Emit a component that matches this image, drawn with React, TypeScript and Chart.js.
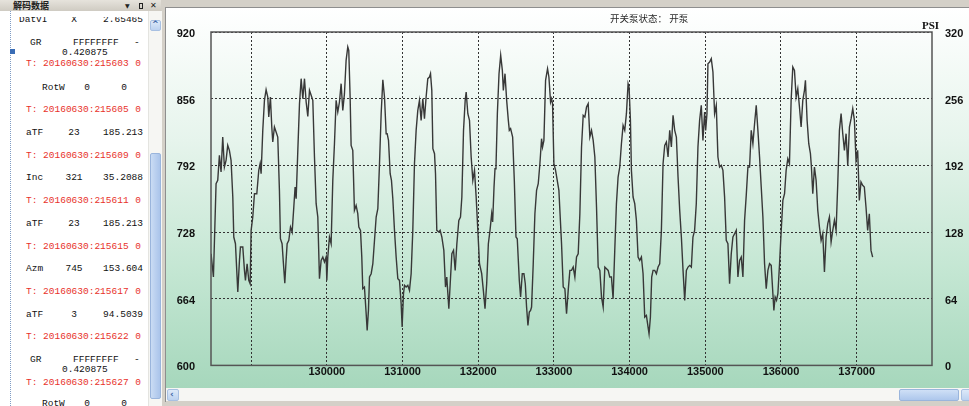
import React, { useEffect, useRef } from 'react';
import { Chart, registerables } from 'chart.js';

Chart.register(...registerables);

// ---- chart data (sample index vs pressure) ----
const sampleA = [
  128471,128502,128537,128559,128581,128603,128625,128647,128669,128691,
  128713,128735,128758,128771,128793,128824,128846,128859,128890,128912,
  128925,128947,128969,128987,129000,129022,129044,129075,129101,129119,
  129132,129154,129176,129198,129220,129233,129255,129273,129286,129308,
  129330,129352,129374,129387,129409,129427,129445,129462,129476,129498,
  129520,129542,129564,129581,129595,129617,129639,129661,129683,129705,
  129727,129749,129771,129793,129815,129837,129859,129881,129903,129925,
  129947,129969,129991,130000,130013,130035,130057,130079,130101,130123,
  130145,130167,130189,130211,130233,130255,130277,130290,130308,130321,
  130343,130365,130387,130409,130423,130445,130462,130475,130497,130520,
  130533,130550,130564,130586,130608,130652,130674,130696,130718,130740,
  130762,130784,130797,130815,130837,130854,130872,130894,130916,130938,
  130960,130982,130995,131013,131026,131048,131070,131092,131114,131136,
  131158,131180,131202,131224,131246,131268,131290,131312,131334,131356,
  131370,131387,131401,131423,131436,131453,131480,131497,131520,131546,
  131568,131585,131612,131630,131652,131674,131696,131718,131744,131766,
  131784,131806,131828,131841,131863,131885,131907,131929,131951,131973,
  131995,132017,
];
const pressureA = [
  707.2,684.8,774.4,777.6,801.6,785.6,819.2,790.4,796.8,811.2,
  806.4,796.8,761.6,723.2,716.8,670.4,700.8,713.6,713.6,691.2,
  681.6,697.6,681.6,678.4,729.6,742.4,764.8,764.8,787.2,793.6,
  784,825.6,854.4,864.6,857.6,838.4,857.6,828.8,814.4,828.8,
  824,819.2,768,721.6,716.8,697.6,679,700.8,716.8,720,
  732.8,728,752,771.2,760,806.4,851.2,875.2,856,875.2,
  852.8,839,864,859.2,854.4,800,755.2,742.4,683.2,700.8,
  704,699.2,704,681.6,704,723.2,716.8,777.6,812.8,854.4,
  843.2,852.8,870.4,844.8,860.8,892.8,905.6,902.4,857.6,811.2,
  806.4,748.8,753.6,745.6,732.8,729.6,704,673.6,675.2,649.6,
  633.6,652.8,684.8,688,697.6,742.4,750.4,793.6,841.6,874.2,
  857.6,822.4,822.4,816,784,777.6,760,729.6,704,683.2,
  681.6,659.2,636.8,668.8,676.8,675.2,676.8,672,688,729.6,
  793.6,825.6,844.8,854.4,835.2,856,836.8,857.6,875.2,876.8,
  880,864,808,803.2,784,729.6,728,729.6,723.2,710.4,
  675.2,684.8,654.4,678.4,707.2,710.4,691.2,716.8,739.2,742.4,
  761.6,825.6,854.4,862.4,841.6,835.2,800,777.6,787.2,761.6,
  729.6,697.6,
];
const sampleB = [
  132046,132068,132090,132112,132134,132156,132178,132191,132209,132222,
  132235,132253,132275,132297,132319,132332,132354,132376,132398,132411,
  132428,132455,132477,132499,132516,132543,132560,132582,132604,132622,
  132639,132657,132675,132692,132705,132727,132749,132771,132793,132815,
  132837,132850,132868,132890,132916,132934,132956,132969,132982,133000,
  133022,133044,133066,133079,133101,133123,133145,133167,133189,133211,
  133233,133255,133277,133299,133321,133343,133365,133387,133409,133431,
  133453,133475,133497,133519,133541,133563,133585,133607,133629,133651,
  133673,133695,133717,133738,133760,133782,133804,133826,133848,133870,
  133892,133914,133936,133958,133980,133993,134011,134024,134046,134068,
  134090,134112,134134,134156,134178,134200,134222,134244,134257,134275,
  134292,134310,134332,134354,134376,134398,134420,134442,134464,134486,
  134508,134530,134552,134574,134596,134618,134640,134662,134684,134706,
  134728,134750,134772,134794,134816,134837,134859,134881,134903,134925,
  134947,134969,134991,135005,135022,135035,135057,135079,135101,135123,
  135145,135167,135189,135211,135233,135255,135277,135299,135321,135343,
  135365,135387,135409,135431,135453,135475,135497,135519,135541,135563,
  135585,135607,135629,135651,135673,135695,135717,135739,135761,135783,
  135805,135827,135849,135871,135893,135906,135923,135941,135959,135981,
  136003,136025,136047,136068,136090,136112,136134,136156,136178,136200,
  136222,136244,136266,136288,136310,136323,136345,136367,136389,136402,
  136420,136442,136464,136486,136508,136530,136552,136574,136596,136618,
  136640,136662,136684,136706,136728,136750,136772,136794,136816,136838,
  136860,136882,136904,136926,136948,136970,136991,137013,137035,137057,
  137079,137101,137123,137145,137167,137189,137211,
];
const pressureB = [
  688,672,654.4,678.4,716.8,729.6,745.6,737.6,771.2,788.8,
  790.4,841.6,880,897.6,883.2,864,880,854.4,835.2,825.6,
  827.2,819.2,777.6,723.2,721.6,681.6,665.6,688,688,678.4,
  656,638.4,651.2,652.8,656,697.6,745.6,768,774.4,793.6,
  817.6,809.6,816,873.6,884.8,876.8,852.8,856,851.2,793.6,
  787.2,777.6,768,748.8,716.8,675.2,673.6,649.6,672,691.2,
  691.2,694.4,684.8,704,707.2,745.6,809.6,840,838.4,848,
  851.2,819.2,825.6,816,800,752,694.4,691.2,665.6,656,
  694.4,692.8,691.2,684.8,684.8,664,710.4,755.2,780.8,790.4,
  812.8,830.4,825.6,841.6,870.4,867.2,835.2,787.2,761.6,755.2,
  739.2,704,700.8,704,688,646.4,648,636.8,630.4,646.4,
  684.8,691.2,691.2,688,694.4,697.6,729.6,793.6,811.2,814.4,
  800,825.6,809.6,840,825.6,819.2,780.8,748.8,723.2,691.2,
  662.4,691.2,694.4,696,694.4,723.2,729.6,755.2,809.6,835.2,
  849.6,816,843.2,825.6,841.6,889.6,891.2,894.4,881.6,841.6,
  849.6,800,790.4,792,787.2,761.6,720,716.8,678.4,707.2,
  723.2,726.4,729.6,684.8,700.8,704,684.8,739.2,763.2,790.4,
  790.4,825.6,812.8,832,849.6,825.6,800,771.2,742.4,697.6,
  673.6,691.2,697.6,696,668.8,652.8,665.6,662.4,668.8,697.6,
  729.6,758.4,764.8,787.2,798.4,793.6,854.4,886.4,883.2,857.6,
  865.6,848,828.8,854.4,864,873.6,835.2,812.8,803.2,790.4,
  764.8,790.4,777.6,748.8,732.8,720,726.4,689.6,723.2,736,
  742.4,718.4,729.6,739.2,729.6,774.4,825.6,841.6,822.4,806.4,
  822.4,792,828.8,836.8,846.4,835.2,796.8,806.4,758.4,776,
  772.8,771.2,752,729.6,745.6,710.4,704,
];

const leftAxisTicks = [600, 664, 728, 792, 856, 920];
const rightAxisTicks = [0, 64, 128, 192, 256, 320];
const xRange = [128470, 137995];
const xAxisTicks = [129000, 130000, 131000, 132000, 133000, 134000, 135000, 136000, 137000];
const hiddenXLabels = [129000];

const titleLabel = '开关泵状态：';
const titleState = '开泵';
const rightUnit = 'PSI';
const panelTitle = '解码数据';

// ---- decoded data list (left panel) ----
const recordNames = ['DatVI', 'GR', 'RotW', 'aTF', 'Inc', 'aTF', 'Azm', 'aTF', 'GR', 'RotW'];
const recordCodes = ['X', 'FFFFFFFF', '0', '23', '321', '23', '745', '3', 'FFFFFFFF', '0'];
const recordValues = ['2.65465', '-', '0', '185.213', '35.2088', '185.213', '153.604', '94.5039', '-', '0'];
const timeStamps = ['20160630:215603', '20160630:215605', '20160630:215609', '20160630:215611',
  '20160630:215615', '20160630:215617', '20160630:215622', '20160630:215627'];
const grExtra = '0.420875';

const framePlugin = {
  id: 'plotFrame',
  afterDatasetsDraw(chart: any) {
    const { ctx, chartArea: a } = chart;
    ctx.save();
    ctx.strokeStyle = '#555';
    ctx.lineWidth = 1.5;
    ctx.strokeRect(a.left, a.top, a.right - a.left, a.bottom - a.top);
    ctx.restore();
  },
};

const MONO = '"Liberation Mono", "DejaVu Sans Mono", monospace';

function T(props: { x: number; y: number; text: string; align?: 'left' | 'center' | 'right'; color?: string; size?: number; bold?: boolean; font?: string }) {
  const { x, y, text, align = 'left', color = '#111', size = 9.5, bold = false, font = MONO } = props;
  const tr = align === 'left' ? 'none' : align === 'center' ? 'translateX(-50%)' : 'translateX(-100%)';
  return (
    <span style={{ position: 'absolute', left: x, top: y - 7, lineHeight: '14px', height: 14, fontSize: size, fontFamily: font, color, whiteSpace: 'pre', transform: tr, fontWeight: bold ? 700 : 400 }}>{text}</span>
  );
}

function LeftPanel() {
  const red = '#e8322b';
  const rowsY = [20, 43, 88, 133, 178, 224, 269, 315, 360, 404];
  const tsY = [64, 110, 156, 201, 247, 292, 337, 383];
  const items: any[] = [];
  recordNames.forEach((name, i) => {
    const y = rowsY[i];
    if (name === 'GR') {
      items.push(<T key={'n' + i} x={30} y={y} text={name} />);
      items.push(<T key={'c' + i} x={73} y={y} text={recordCodes[i]} />);
      items.push(<T key={'v' + i} x={134} y={y} text={recordValues[i]} />);
      items.push(<T key={'e' + i} x={62} y={y + 10} text={grExtra} />);
    } else if (name === 'RotW') {
      items.push(<T key={'n' + i} x={42} y={y} text={name} />);
      items.push(<T key={'c' + i} x={87} y={y} text={recordCodes[i]} align="center" />);
      items.push(<T key={'v' + i} x={124} y={y} text={recordValues[i]} align="center" />);
    } else {
      items.push(<T key={'n' + i} x={name === 'DatVI' ? 19 : 26} y={y} text={name} />);
      items.push(<T key={'c' + i} x={74} y={y} text={recordCodes[i]} align="center" />);
      items.push(<T key={'v' + i} x={143} y={y} text={recordValues[i]} align="right" />);
    }
  });
  timeStamps.forEach((ts, i) => {
    items.push(<T key={'t' + i} x={26} y={tsY[i]} text={'T: ' + ts} color={red} />);
    items.push(<T key={'z' + i} x={141} y={tsY[i]} text="0" color={red} align="right" />);
  });
  return (
    <>
      <div style={{ position: 'absolute', left: 0, top: 11, width: 161, height: 395, background: '#fff' }} />
      <div style={{ position: 'absolute', left: 0, top: 17, width: 148, height: 389, overflow: 'hidden' }}>
        <div style={{ position: 'absolute', left: 0, top: -17, width: 148, height: 406 }}>{items}</div>
      </div>
      <div style={{ position: 'absolute', left: 10, top: 11, width: 0, height: 395, borderLeft: '1px dotted #7f9cc4' }} />
      <div style={{ position: 'absolute', left: 10, top: 49, width: 5, height: 5, background: '#3a6db5' }} />
      <div style={{ position: 'absolute', left: 0, top: 0, width: 161, height: 11, background: 'linear-gradient(#e6e3dc, #cfcbc2)' }} />
      <span style={{ position: 'absolute', left: 13, top: 0, fontSize: 9, lineHeight: '11px', fontFamily: '"Noto Sans CJK SC", sans-serif', color: '#222', fontWeight: 700 }}>{panelTitle}</span>
      <span style={{ position: 'absolute', left: 125, top: 1, fontSize: 6, lineHeight: '9px', fontFamily: '"DejaVu Sans", sans-serif', color: '#222' }}>▼</span>
      <div style={{ position: 'absolute', left: 139, top: 3, width: 2, height: 4, border: '1px solid #222' }} />
      <span style={{ position: 'absolute', left: 150, top: 0, fontSize: 8, lineHeight: '11px', fontFamily: '"DejaVu Sans", sans-serif', color: '#222', fontWeight: 700 }}>✕</span>
      <div style={{ position: 'absolute', left: 148, top: 11, width: 13, height: 395, background: '#f6f6f3', borderLeft: '1px solid #e4e4e0' }} />
      <div style={{ position: 'absolute', left: 150, top: 20, width: 9, height: 9, background: 'linear-gradient(#dde9f8, #bcd2f0)', border: '1px solid #a8c0e2', borderRadius: 2 }}>
        <span style={{ position: 'absolute', left: 1, top: -1, fontSize: 8, lineHeight: '10px', color: '#3f66a5', fontFamily: '"DejaVu Sans", sans-serif', fontWeight: 700 }}>^</span>
      </div>
      <div style={{ position: 'absolute', left: 150, top: 153, width: 9, height: 244, background: 'linear-gradient(to right, #cadcf4, #aac4ea)', border: '1px solid #9ab5dc', borderRadius: 2 }} />
    </>
  );
}

function ChartCanvas() {
  const ref = useRef<HTMLCanvasElement | null>(null);
  useEffect(() => {
    if (!ref.current) return;
    const pts = sampleA.map((x, i) => ({ x, y: pressureA[i] })).concat(sampleB.map((x, i) => ({ x, y: pressureB[i] })));
    const tickFont = { family: '"Liberation Sans", Arial, sans-serif', size: 11, weight: 'bold' as const };
    const chart = new Chart(ref.current, {
      type: 'line',
      data: {
        datasets: [{
          data: pts,
          borderColor: '#383838',
          borderWidth: 1.4,
          pointRadius: 0,
          tension: 0,
          fill: false,
          yAxisID: 'y',
        }],
      },
      options: {
        animation: false,
        responsive: false,
        maintainAspectRatio: false,
        layout: { padding: { top: 24, left: 0, right: 0, bottom: 0 } },
        plugins: { legend: { display: false }, tooltip: { enabled: false }, title: { display: false } },
        scales: {
          x: {
            type: 'linear',
            min: xRange[0],
            max: xRange[1],
            border: { display: false, dash: [2, 2] },
            grid: { color: '#333', lineWidth: 1, drawTicks: false },
            afterBuildTicks: (s: any) => { s.ticks = xAxisTicks.map((value) => ({ value })); },
            ticks: {
              autoSkip: false,
              maxRotation: 0,
              padding: 0,
              color: '#111',
              font: tickFont,
              callback: (v: any) => (hiddenXLabels.includes(Number(v)) ? '' : String(v)),
            },
            afterFit: (s: any) => { s.height = 22; },
          },
          y: {
            position: 'left',
            min: leftAxisTicks[0],
            max: leftAxisTicks[leftAxisTicks.length - 1],
            border: { display: false, dash: [2, 2] },
            grid: { color: '#333', lineWidth: 1, drawTicks: false },
            afterBuildTicks: (s: any) => { s.ticks = leftAxisTicks.map((value) => ({ value })); },
            ticks: {
              padding: 16,
              labelOffset: 2,
              color: '#111',
              font: tickFont,
              callback: (v: any) => String(v),
            },
            afterFit: (s: any) => { s.width = 45; },
          },
          y1: {
            position: 'right',
            min: rightAxisTicks[0],
            max: rightAxisTicks[rightAxisTicks.length - 1],
            border: { display: false },
            grid: { display: false, drawTicks: false },
            afterBuildTicks: (s: any) => { s.ticks = rightAxisTicks.map((value) => ({ value })); },
            ticks: {
              padding: 13,
              labelOffset: 2,
              color: '#111',
              font: tickFont,
              callback: (v: any) => String(v),
            },
            afterFit: (s: any) => { s.width = 37; },
          },
        },
      } as any,
      plugins: [framePlugin],
    });
    return () => chart.destroy();
  }, []);
  return <canvas ref={ref} width={803} height={380} style={{ position: 'absolute', left: 0, top: 0, width: 803, height: 380 }} />;
}

export default function App() {
  useEffect(() => {
    document.body.style.margin = '0';
  }, []);
  return (
    <div style={{ position: 'fixed', left: 0, top: 0, width: 969, height: 406, overflow: 'hidden', background: '#d4d0c8', fontFamily: '"Liberation Sans", sans-serif' }}>
      <LeftPanel />
      <div style={{ position: 'absolute', left: 165, top: 7, width: 1, height: 395, background: '#8e8e8e' }} />
      <div style={{ position: 'absolute', left: 165, top: 7, width: 804, height: 1, background: '#8e8e8e' }} />
      <div style={{ position: 'absolute', left: 166, top: 8, width: 803, height: 380, background: 'linear-gradient(to bottom, #ffffff 0%, #e6f4ec 35%, #c3e6d2 70%, #a6d7bc 100%)' }}>
        <ChartCanvas />
        <span style={{ position: 'absolute', left: 444, top: 4, fontSize: 9.5, lineHeight: '13px', fontFamily: '"Noto Sans CJK SC", sans-serif', color: '#2a2a2a', whiteSpace: 'pre' }}>{titleLabel + ' '}{titleState}</span>
        <span style={{ position: 'absolute', left: 756, top: 11, fontSize: 11, lineHeight: '13px', fontFamily: '"Liberation Serif", serif', color: '#111', fontWeight: 700 }}>{rightUnit}</span>
      </div>
      <div style={{ position: 'absolute', left: 166, top: 388, width: 803, height: 13, background: '#f6f6f3' }} />
      <div style={{ position: 'absolute', left: 167, top: 389, width: 10, height: 10, background: 'linear-gradient(#dde9f8, #bcd2f0)', border: '1px solid #a8c0e2', borderRadius: 2 }}>
        <span style={{ position: 'absolute', left: 2, top: -1, fontSize: 9, lineHeight: '11px', color: '#3f66a5', fontFamily: '"DejaVu Sans", sans-serif', fontWeight: 700 }}>‹</span>
      </div>
      <div style={{ position: 'absolute', left: 899, top: 389, width: 58, height: 10, background: 'linear-gradient(#cfe0f6, #adc7ec)', border: '1px solid #9ab5dc', borderRadius: 2 }} />
      <div style={{ position: 'absolute', left: 961, top: 389, width: 10, height: 10, background: 'linear-gradient(#dde9f8, #bcd2f0)', border: '1px solid #a8c0e2', borderRadius: 2 }} />
    </div>
  );
}
